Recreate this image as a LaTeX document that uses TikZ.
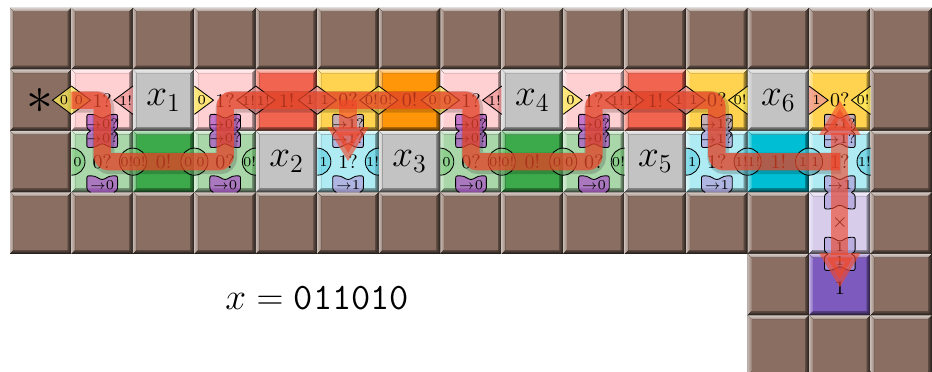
\documentclass[tikz,border=0pt]{standalone}
\usepackage{tikz}
\usetikzlibrary{arrows.meta,calc}
\definecolor{tbrown}{RGB}{137,110,97}
\definecolor{tpink}{RGB}{255,208,210}
\definecolor{tred}{RGB}{240,100,80}
\definecolor{tyellow}{RGB}{255,210,80}
\definecolor{torange}{RGB}{255,150,10}
\definecolor{tgray}{RGB}{195,195,195}
\definecolor{tlgreen}{RGB}{170,215,170}
\definecolor{tgreen}{RGB}{60,170,75}
\definecolor{tlcyan}{RGB}{175,235,242}
\definecolor{tcyan}{RGB}{0,190,212}
\definecolor{tlav}{RGB}{215,205,235}
\definecolor{tpurple}{RGB}{125,90,190}
\definecolor{gy}{RGB}{255,235,90}
\definecolor{gp}{RGB}{240,150,150}
\definecolor{gg}{RGB}{120,200,120}
\definecolor{gc}{RGB}{90,205,225}
\definecolor{gm}{RGB}{170,80,200}
\definecolor{gl}{RGB}{175,160,220}
\definecolor{pathred}{RGB}{240,70,40}

\newcommand{\sqtile}[3]{%
  \fill[#3] (#1,-#2) rectangle ++(1,-1);
  \fill[top color=#3!35!white,bottom color=#3!75!white] (#1,-#2) -- (#1+1,-#2) -- (#1+0.94,-#2-0.06) -- (#1+0.06,-#2-0.06) -- cycle;
  \fill[left color=#3!50!white,right color=#3!85!white] (#1,-#2) -- (#1+0.06,-#2-0.06) -- (#1+0.06,-#2-0.94) -- (#1,-#2-1) -- cycle;
  \fill[left color=#3!65!black,right color=#3!25!black] (#1+1,-#2) -- (#1+1,-#2-1) -- (#1+0.94,-#2-0.94) -- (#1+0.94,-#2-0.06) -- cycle;
  \fill[top color=#3!65!black,bottom color=#3!20!black] (#1,-#2-1) -- (#1+1,-#2-1) -- (#1+0.94,-#2-0.94) -- (#1+0.06,-#2-0.94) -- cycle;}
\newcommand{\htri}[6]{%
  \filldraw[fill=#4,fill opacity=.75,draw=black,thin] (#1,#2+0.23) -- ({#1+#3*0.31},#2) -- (#1,#2-0.23);
  \node[gluelbl] (#6) at ({#1+#3*0.12},#2) {#5};}
\newcommand{\hcirc}[6]{%
  \filldraw[fill=#4,fill opacity=.6,draw=black,thin] (#1,#2+0.22) arc[start angle=90,delta angle={-180*#3},radius=0.22];
  \node[gluelbl] (#6) at ({#1+#3*0.1},#2) {#5};}
\newcommand{\vbond}[6]{%
  \begin{scope}[shift={(#1,#2)},yscale=#3]
    \filldraw[fill=#4,fill opacity=.7,draw=black,thin] (-0.19,0) .. controls (-0.25,0.04) .. (-0.25,0.12) -- (-0.25,0.2)
      .. controls (-0.25,0.27) .. (-0.18,0.27) .. controls (-0.08,0.27) and (-0.06,0.21) .. (0,0.21)
      .. controls (0.06,0.21) and (0.08,0.27) .. (0.18,0.27) .. controls (0.25,0.27) .. (0.25,0.2)
      -- (0.25,0.12) .. controls (0.25,0.04) .. (0.19,0);
    \node[gluelbl] (#6) at (0,0.12) {#5};
  \end{scope}}

\begin{document}
\begin{tikzpicture}[
    lbl/.style={font=\small,inner sep=0pt},
    gluelbl/.style={font=\fontsize{6.3}{7}\selectfont,inner sep=0pt},
    redpath/.style={draw=pathred,draw opacity=.72,line width=8pt,rounded corners=3pt},
    redshade/.style={draw=black,draw opacity=.18,line width=10pt,rounded corners=3pt,
      transform canvas={shift={(0.6pt,-0.8pt)}}},
    redtip/.style={-{Triangle[width=18pt,length=16pt]},draw=pathred,opacity=.62,line width=8pt}]
  \useasboundingbox (-0.163,0.13) rectangle (15,-5.92);
  \foreach \c in {0,...,14} \sqtile{\c}{0}{tbrown};
  \foreach \k [count=\c from 0] in {tbrown,tpink,tgray,tpink,tred,tyellow,torange,tpink,tgray,tpink,tred,tyellow,tgray,tyellow,tbrown}
    \sqtile{\c}{1}{\k};
  \foreach \k [count=\c from 0] in {tbrown,tlgreen,tgreen,tlgreen,tgray,tlcyan,tgray,tlgreen,tgreen,tlgreen,tgray,tlcyan,tcyan,tlcyan,tbrown}
    \sqtile{\c}{2}{\k};
  \foreach \c in {0,...,12} \sqtile{\c}{3}{tbrown};
  \sqtile{13}{3}{tlav}
  \sqtile{14}{3}{tbrown}
  \foreach \k [count=\c from 12] in {tbrown,tpurple,tbrown} \sqtile{\c}{4}{\k};
  \foreach \c in {12,13,14} \sqtile{\c}{5}{tbrown};

  \foreach \e/\s/\k/\t [count=\n] in {1/-1/gy/0,1/1/gy/0,2/-1/gp/1!,3/1/gy/0,4/-1/gp/1!,4/1/gp/1!,5/-1/gp/1,5/1/gp/1,
      6/-1/gy/0!,6/1/gy/0!,7/-1/gy/0,7/1/gy/0,8/-1/gp/1!,9/1/gy/0,10/-1/gp/1!,10/1/gp/1!,11/-1/gp/1,11/1/gp/1,
      12/-1/gy/0!,13/1/gp/1,14/-1/gy/0!}
    \htri{\e}{-1.5}{\s}{\k}{\t}{h\n};
  \foreach \e/\s/\k/\t [count=\n] in {1/1/gg/0,2/-1/gg/0!,2/1/gg/0!,3/-1/gg/0,3/1/gg/0,4/-1/gg/0!,5/1/gc/1,6/-1/gc/1!,
      7/1/gg/0,8/-1/gg/0!,8/1/gg/0!,9/-1/gg/0,9/1/gg/0,10/-1/gg/0!,11/1/gc/1,12/-1/gc/1!,12/1/gc/1!,
      13/-1/gc/1,13/1/gc/1,14/-1/gc/1!}
    \hcirc{\e}{-2.5}{\s}{\k}{\t}{o\n};
  \foreach \c/\k/\t in {1/gm/0?,3/gm/0?,5/gl/1?,7/gm/0?,9/gm/0?,11/gl/1?,13/gl/1?}{
    \vbond{\c+.5}{-2}{1}{\k}{$\to$\t}{va\c}
    \vbond{\c+.5}{-2}{-1}{\k}{$\to$\t}{vb\c}
  }
  \foreach \c/\k/\t in {1/gm/0,3/gm/0,5/gl/1,7/gm/0,9/gm/0,11/gl/1,13/gl/1}
    \vbond{\c+.5}{-3}{1}{\k}{$\to$\t}{vc\c};
  \vbond{13.5}{-3}{-1}{gl}{}{vd13}
  \vbond{13.5}{-4}{1}{gl}{1}{ve13}
  \vbond{13.5}{-4}{-1}{gl}{1}{vf13}

  \node[font=\Huge] (seed) at (0.48,-1.52) {$\ast$};
  \foreach \c/\r/\i in {2/1/1,4/2/2,6/2/3,8/1/4,10/2/5,12/1/6}
    \node[font=\LARGE] (x\i) at (\c+.5,-\r-.5) {$x_{\i}$};
  \foreach \c/\t in {1/1?,3/1?,4/1!,5/0?,6/0!,7/1?,9/1?,10/1!,11/0?,13/0?}
    \node[lbl] (u\c) at (\c+.5,-1.5) {\t};
  \foreach \c/\t in {1/0?,2/0!,3/0?,5/1?,7/0?,8/0!,9/0?,11/1?,12/1!,13/1?}
    \node[lbl] (d\c) at (\c+.5,-2.5) {\t};
  \node[lbl] (m13) at (13.5,-3.5) {$\times$};
  \node[lbl] (b13) at (13.5,-4.55) {1};

  \coordinate (start) at (1,-1.5);
  \foreach \s in {redshade,redpath}
    \draw[\s] (start) -- (u1.center) -- (d1.center) -- (d3.center) -- (u3.center) -- (u7.center) -- (d7.center)
      -- (d9.center) -- (u9.center) -- (u11.center) -- (d11.center) -- (d13.center);
  \draw[redtip] (u5.center) -- (d5.center);
  \draw[redtip] (d13.center) -- (u13.center);
  \draw[redtip] (d13.center) -- (b13.center);

  \node[font=\LARGE] (word) at (5.0,-4.72) {$x = \texttt{011010}$};
\end{tikzpicture}
\end{document}
